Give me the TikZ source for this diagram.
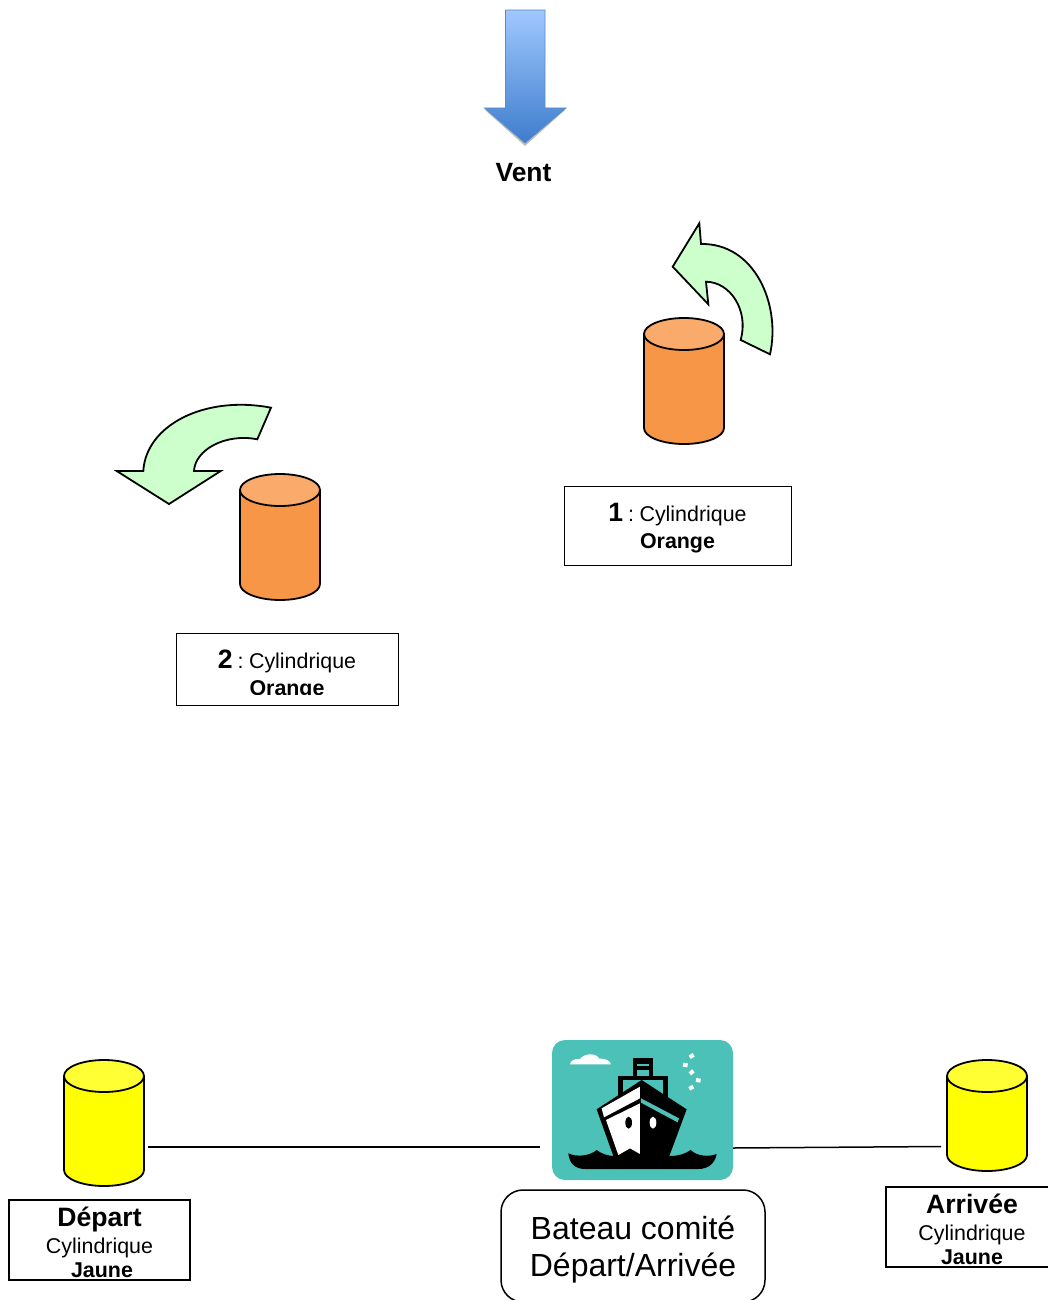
\documentclass[tikz,border=0pt]{standalone}
\usepackage{fontspec}
\setmainfont{Liberation Sans}
\usetikzlibrary{calc,positioning}
\definecolor{orangebody}{RGB}{247,150,70}
\definecolor{orangetop}{RGB}{250,171,107}
\definecolor{yellowbody}{RGB}{255,255,0}
\definecolor{yellowtop}{RGB}{255,255,51}
\definecolor{greenfill}{RGB}{204,255,204}
\definecolor{tealfill}{RGB}{76,193,183}
\definecolor{bluetop}{RGB}{160,200,255}
\definecolor{bluebottom}{RGB}{62,125,205}
\definecolor{blueline}{RGB}{90,140,200}
\tikzset{
  plot/.style={minimum width=80pt,inner sep=0pt,outer sep=0pt},
  traitplot/.style={draw=black,line width=1.8pt,line join=round},
  boite/.style={draw=black,line width=1pt,align=center,inner sep=0pt,outer sep=0pt,
    font=\fontsize{21.4}{27}\selectfont},
  fleche/.style={draw=black,line width=1.8pt,fill=greenfill,line join=miter},
  liaison/.style={draw=black,line width=1.5pt},
}
\newcommand{\grand}[1]{{\fontsize{26.6}{27}\selectfont\bfseries #1}}
% corps puis dessus d'un plot, sur le noeud #1
\newcommand{\cylindre}[3]{
  \draw[traitplot,fill=#2] ($(#1.north west)+(0,16)$) -- ($(#1.south west)+(0,-16)$)
    arc[start angle=180,end angle=0,x radius=40,y radius=16]
    -- ($(#1.north east)+(0,16)$) -- cycle;
  \draw[traitplot,fill=#3] ($(#1.north)+(0,16)$) ellipse (40 and 16);
}
\begin{document}
\begin{tikzpicture}[x=1pt,y=-1pt]
  \useasboundingbox (0,0) rectangle (1048,1300);
  % Vent
  \fill[black!25] (485,110) -- (525,146) -- (565,110) -- cycle;
  \shade[top color=bluetop,bottom color=bluebottom,draw=blueline,line width=0.8pt]
    (505.5,10) -- (545,10) -- (545,108) -- (566,108) -- (525,143) -- (484.5,108) -- (505.5,108) -- cycle;
  \node[font=\fontsize{26.4}{30}\selectfont\bfseries] (vent) at (523.5,172.5) {Vent};
  % Marques
  \node[plot,minimum height=126pt] (plotA) at (684,381) {};
  \node[plot,minimum height=126pt] (plotB) at (280,537) {};
  \cylindre{plotA}{orangebody}{orangetop}
  \cylindre{plotB}{orangebody}{orangetop}
  \draw[fleche] (699.3,223.3) -- (672.7,266.7) -- (708.3,304.3) -- (706,281.7)
    .. controls (730,282) and (749,310) .. (740.7,340) -- (770,354.3)
    .. controls (781,305) and (755,243) .. (701,244) -- cycle;
  \draw[fleche] (271,407.7) -- (257.3,439.3)
    .. controls (225,433) and (195,450) .. (194,471) -- (220.7,471) -- (169,504)
    -- (116.7,471) -- (143.3,471)
    .. controls (146,425) and (205,395) .. cycle;
  \node[boite,minimum width=227pt,minimum height=79pt] (boiteA) at (677.5,525.5)
    {\rule{0pt}{23pt}\grand{1}\hspace{5pt}:\hspace{5.5pt}Cylindrique\\\textbf{Orange}};
  \node[boite,minimum width=222pt,minimum height=72pt] (boiteB) at (287,669) {};
  \begin{scope}
    \clip (176,633) rectangle (398,694);
    \node[align=center,inner sep=0pt,font=\fontsize{21.4}{27}\selectfont] (texteB) at (287,675)
      {\grand{2}\hspace{5pt}:\hspace{5.5pt}Cylindrique\\\textbf{Orange}};
  \end{scope}
  % Ligne
  \node[plot,minimum height=126pt] (depart) at (104,1123) {};
  \node[plot,minimum height=111pt] (arrivee) at (987,1115.5) {};
  \cylindre{depart}{yellowbody}{yellowtop}
  \cylindre{arrivee}{yellowbody}{yellowtop}
  \node[fill=tealfill,rounded corners=13pt,minimum width=181pt,minimum height=140pt,
    inner sep=0pt,outer sep=0pt] (bateau) at (642.5,1110) {};
  \coordinate (lienA) at ($(depart.east)+(4,24)$);
  \coordinate (lienB) at ($(bateau.west)+(-12,37)$);
  \coordinate (lienC) at ($(bateau.east)+(0,38)$);
  \coordinate (lienD) at ($(arrivee.west)+(-6,31)$);
  \draw[liaison] (lienA) -- (lienB);
  \draw[liaison] (lienC) -- (lienD);
  % Bateau
  \begin{scope}[shift={(530,1030)},x=0.3333pt,y=-0.3333pt]
    \fill[white] (120,103) .. controls (120,92) and (135,85) .. (150,87)
      .. controls (160,72) and (195,65) .. (208,86)
      .. controls (225,84) and (240,92) .. (243,103) -- cycle;
    \foreach \bx/\by/\ba in {485/78/30,466/105/-10,485/127/40,505/151/-10,484/173/30}
      \fill[white,rotate around={\ba:(\bx,\by)}] (\bx-7,\by-6) rectangle (\bx+7,\by+6);
    \fill[black] (308,85) rectangle (370,160);
    \fill[tealfill] (322,103) rectangle (357,108);
    \fill[tealfill] (322,120) rectangle (357,138);
    \fill[black] (265,138) rectangle (414,210);
    \fill[tealfill] (278,150) rectangle (400,210);
    \fill[black] (335,150) -- (470,238) -- (418,378) -- (250,378) -- (200,238) -- cycle;
    \fill[white] (330,170) -- (330,205) -- (222,262) -- (215,235) -- cycle;
    \fill[white] (330,220) -- (330,372) -- (300,355) -- (265,375) -- (228,270) -- cycle;
    \fill[tealfill] (333,205) -- (447,265) -- (443,277) -- (333,218) -- cycle;
    \fill[black] (296,278) ellipse (10 and 18);
    \fill[white] (369,278) ellipse (10 and 18);
    \fill[black] (115,370) .. controls (140,382) and (180,378) .. (200,360)
      .. controls (215,372) and (235,378) .. (255,378) -- (420,378)
      .. controls (445,378) and (465,372) .. (482,360)
      .. controls (500,378) and (535,382) .. (560,372)
      .. controls (555,400) and (535,417) .. (505,417) -- (165,417)
      .. controls (135,417) and (118,400) .. cycle;
  \end{scope}
  % Boites du bas
  \node[boite,line width=1.5pt,minimum width=181pt,minimum height=80pt] (boiteD) at (99.5,1240)
    {\rule{0pt}{24pt}\grand{Départ}\\Cylindrique\\[-3pt]\hspace*{5pt}\textbf{Jaune}};
  \node[boite,line width=1.5pt,minimum width=172pt,minimum height=80pt] (boiteE) at (972,1227)
    {\rule{0pt}{24pt}\grand{Arrivée}\\Cylindrique\\[-3pt]\textbf{Jaune}};
  \node[draw=black,line width=1.5pt,rounded corners=22pt,fill=white,minimum width=264pt,minimum height=112pt,
    inner sep=0pt,outer sep=0pt] (comite) at (633,1246) {};
  \node[align=center,inner sep=0pt,font=\fontsize{32}{37}\selectfont] (texteC) at (633,1250)
    {Bateau comité\\Départ/Arrivée};
\end{tikzpicture}
\end{document}
